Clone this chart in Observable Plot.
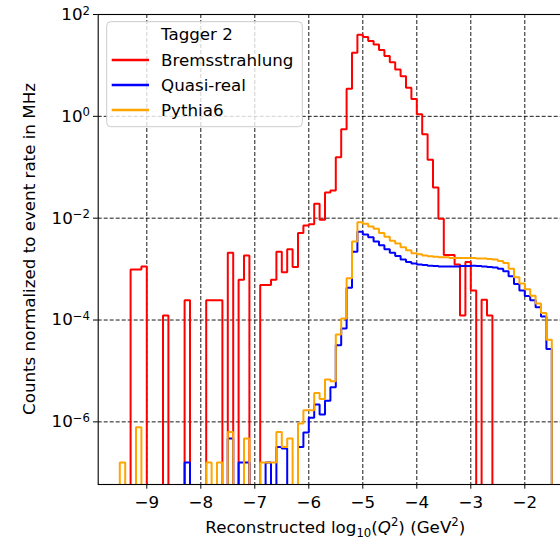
<!DOCTYPE html>
<html><head><meta charset="utf-8">
<script src="https://cdn.jsdelivr.net/npm/d3@7"></script>
<script src="https://cdn.jsdelivr.net/npm/@observablehq/plot@0.6"></script>
<style>
html,body{margin:0;padding:0;background:#fff;overflow:hidden;}
#chart{width:560px;height:539px;overflow:hidden;position:relative;}
</style></head><body><div id="chart"></div>
<script>
// Histogram binning (left edge of first bin, bin width) in log10(Q^2)
const binStart = -9.5;
const binWidth = 0.1;

// Counts normalized to event rate in MHz, one value per bin (0 = empty bin)
const bremsstrahlung = [
  0, 0, 9.8e-4, 9.8e-4, 1.12e-3, 0, 0, 0, 1.23e-4, 0,
  0, 0, 2.45e-4, 0, 0, 0, 2.45e-4, 2.45e-4, 2.45e-4, 0,
  2.1e-3, 0, 6.2e-4, 1.86e-3, 0, 0, 4.9e-4, 4.9e-4, 6.2e-4, 2.2e-3,
  8.7e-4, 2.45e-3, 1.10e-3, 5.1e-3, 7.2e-3, 7.6e-3, 1.93e-2, 9.3e-3, 3.2e-2, 3.5e-2,
  0.158, 0.56, 3.5, 17.8, 39.8, 36.3, 30.2, 25.7, 20.0, 15.3,
  11.5, 8.3, 6.1, 3.66, 2.19, 1.10, 0.443, 0.141, 0.040, 9.8e-3,
  1.9e-3, 1.9e-3, 1.23e-3, 1.23e-4, 1.38e-3, 3.8e-4, 0, 2.5e-4, 1.23e-4, 0,
  0, 0, 0, 0, 0, 0, 0, 0, 0, 0
];
const quasiReal = [
  0, 0, 0, 0, 0, 0, 0, 0, 0, 0,
  0, 0, 1.6e-7, 0, 0, 0, 0, 0, 0, 0,
  4.7e-7, 0, 1.6e-7, 1.6e-7, 0, 0, 0, 1.6e-7, 0, 3.2e-7,
  3.0e-7, 0, 0, 3.2e-7, 6.2e-7, 1.2e-6, 2.2e-6, 1.4e-6, 2.6e-6, 4.8e-6,
  3.2e-5, 6.8e-5, 4.3e-4, 2.2e-3, 5.4e-3, 4.8e-3, 4.2e-3, 3.5e-3, 2.95e-3, 2.45e-3,
  2.1e-3, 1.8e-3, 1.55e-3, 1.38e-3, 1.29e-3, 1.23e-3, 1.20e-3, 1.17e-3, 1.15e-3, 1.12e-3,
  1.12e-3, 1.12e-3, 1.12e-3, 1.15e-3, 1.15e-3, 1.17e-3, 1.15e-3, 1.12e-3, 1.10e-3, 1.07e-3,
  1.02e-3, 9.1e-4, 7.2e-4, 5.1e-4, 3.8e-4, 2.95e-4, 2.45e-4, 1.78e-4, 1.17e-4, 2.7e-5
];
const pythia6 = [
  1.6e-7, 0, 0, 7.8e-7, 0, 0, 0, 0, 0, 0,
  0, 0, 0, 0, 0, 0, 1.6e-7, 0, 1.6e-7, 0,
  6.3e-7, 0, 0, 4.7e-7, 0, 0, 1.6e-7, 1.6e-7, 1.6e-7, 6.3e-7,
  3.2e-7, 4.7e-7, 0, 9.3e-7, 1.7e-6, 1.7e-6, 3.7e-6, 2.8e-6, 6.8e-6, 6.3e-6,
  5.2e-5, 1.07e-4, 6.6e-4, 3.5e-3, 8.3e-3, 7.8e-3, 6.9e-3, 6.2e-3, 5.1e-3, 4.3e-3,
  3.6e-3, 3.2e-3, 2.7e-3, 2.35e-3, 2.04e-3, 1.95e-3, 1.86e-3, 1.78e-3, 1.74e-3, 1.70e-3,
  1.70e-3, 1.66e-3, 1.66e-3, 1.66e-3, 1.66e-3, 1.66e-3, 1.62e-3, 1.62e-3, 1.58e-3, 1.55e-3,
  1.45e-3, 1.32e-3, 1.02e-3, 6.9e-4, 5.2e-4, 4.0e-4, 3.0e-4, 2.1e-4, 1.38e-4, 4.1e-5
];

const seriesNames = ["Bremsstrahlung", "Quasi-real", "Pythia6"];
const seriesColors = ["red", "blue", "orange"];
const legendTitle = "Tagger 2";
const xTicks = [-9, -8, -7, -6, -5, -4, -3, -2];
const yTicks = [1e2, 1e0, 1e-2, 1e-4, 1e-6];
const yLabel = "Counts normalized to event rate in MHz";

// Build step outlines (histtype="step"); empty bins fall below the frame and are clipped
const FLOOR = 1e-12;
function steps(vals, name) {
  const pts = [{x: binStart, y: FLOOR, s: name}];
  vals.forEach((v, i) => {
    const x0 = binStart + i * binWidth, x1 = binStart + (i + 1) * binWidth;
    const y = v > 0 ? v : FLOOR;
    pts.push({x: x0, y, s: name}, {x: x1, y, s: name});
  });
  pts.push({x: binStart + vals.length * binWidth, y: FLOOR, s: name});
  return pts;
}
const data = [
  ...steps(bremsstrahlung, seriesNames[0]),
  ...steps(quasiReal, seriesNames[1]),
  ...steps(pythia6, seriesNames[2])
];

const W = 560, H = 539;
const mL = 97.7, mR = -12.9, mT = 14, mB = 55;
const font = "DejaVu Sans";
const FS = 16.7;

const plot = Plot.plot({
  width: W, height: H,
  marginLeft: mL, marginRight: mR, marginTop: mT, marginBottom: mB,
  style: {fontFamily: font, fontSize: FS + "px", background: "white", color: "black"},
  x: {domain: [-9.9, -1.1], ticks: xTicks, tickFormat: d3.format("d"), tickSize: 4.7, tickPadding: 7, label: null},
  y: {type: "log", domain: [10 ** -7.23, 100], ticks: yTicks,
      tickFormat: d => "10^" + Math.round(Math.log10(d)), tickSize: 4.7, tickPadding: 3.5, label: null},
  color: {domain: seriesNames, range: seriesColors},
  marks: [
    Plot.gridX(xTicks, {stroke: "black", strokeOpacity: 1, strokeWidth: 0.9, strokeDasharray: "4,2"}),
    Plot.gridY(yTicks, {stroke: "black", strokeOpacity: 1, strokeWidth: 0.9, strokeDasharray: "4,2"}),
    Plot.line(data, {x: "x", y: "y", z: "s", stroke: "s", strokeWidth: 2, strokeLinejoin: "miter", clip: true}),
    Plot.frame({stroke: "black", strokeWidth: 1.1})
  ]
});

const svg = d3.select(plot.tagName === "svg" ? plot : plot.querySelector("svg"));

// Superscript exponents on y tick labels
svg.selectAll('g[aria-label="y-axis tick label"] text').each(function () {
  const m = this.textContent.match(/^10\^(-?\d+)$/);
  if (!m) return;
  this.textContent = "10";
  d3.select(this).append("tspan").attr("dy", "-0.45em").attr("font-size", "11.7px")
    .text(d3.format("d")(+m[1]));
});

// Axis labels
const cx = (mL + (W - mR)) / 2;
const xl = svg.append("text").attr("x", cx).attr("y", 533).attr("text-anchor", "middle")
  .attr("font-family", font).attr("font-size", FS).attr("fill", "black");
xl.append("tspan").text("Reconstructed log");
xl.append("tspan").attr("dy", 3.5).attr("font-size", 11.7).text("10");
xl.append("tspan").attr("dy", -3.5).text("(");
xl.append("tspan").attr("font-style", "italic").text("Q");
xl.append("tspan").attr("dy", -7).attr("font-size", 11.7).text("2");
xl.append("tspan").attr("dy", 7).text(") (GeV");
xl.append("tspan").attr("dy", -7).attr("font-size", 11.7).text("2");
xl.append("tspan").attr("dy", 7).text(")");

svg.append("text").attr("transform", `translate(30,${(mT + H - mB) / 2}) rotate(-90)`)
  .attr("text-anchor", "middle").attr("dominant-baseline", "middle")
  .attr("font-family", font).attr("font-size", FS).attr("fill", "black").text(yLabel);

// Legend
const lg = svg.append("g").attr("font-family", font).attr("font-size", FS).attr("text-anchor", "start");
lg.append("rect").attr("x", 106.7).attr("y", 21.7).attr("width", 195.6).attr("height", 105)
  .attr("rx", 4).attr("fill", "white").attr("fill-opacity", 0.8).attr("stroke", "#cccccc").attr("stroke-width", 1);
lg.append("text").attr("x", 161).attr("y", 40).attr("fill", "black").text(legendTitle);
seriesNames.forEach((name, i) => {
  const y = 60 + i * 25;
  lg.append("line").attr("x1", 111.7).attr("x2", 149).attr("y1", y).attr("y2", y)
    .attr("stroke", seriesColors[i]).attr("stroke-width", 2.7);
  lg.append("text").attr("x", 161).attr("y", y + 6).attr("fill", "black").text(name);
});

document.getElementById("chart").appendChild(plot);
</script></body></html>
